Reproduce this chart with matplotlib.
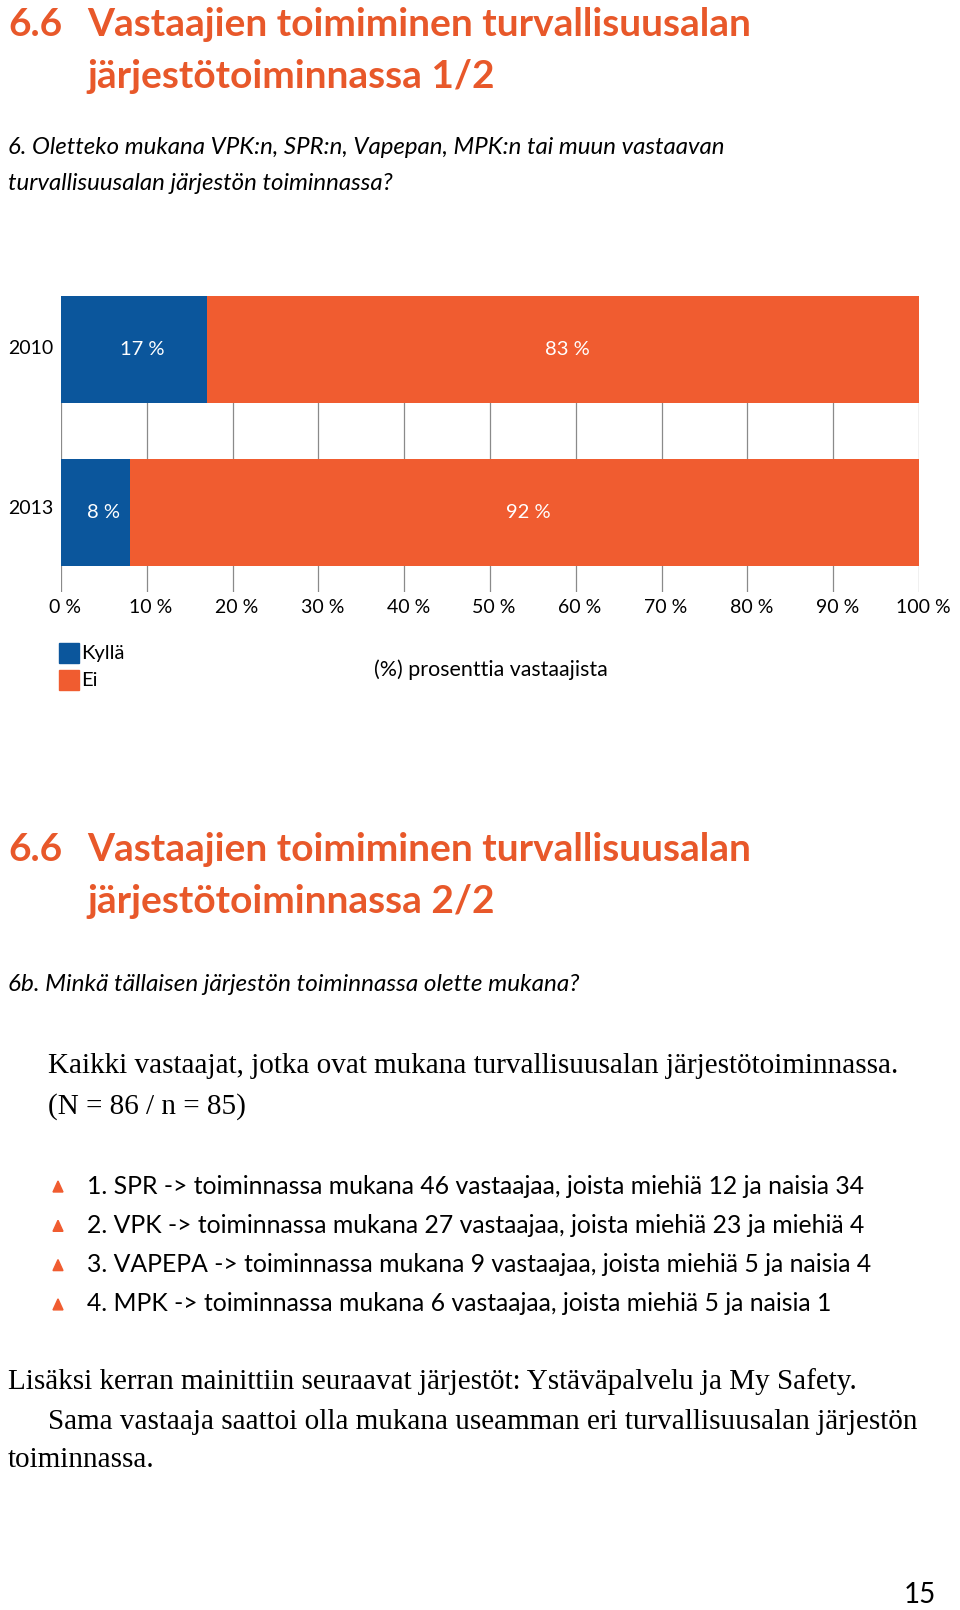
import matplotlib
matplotlib.use("Agg")
import matplotlib.pyplot as plt
from matplotlib.patches import Rectangle, Polygon

# data
years = ["2010", "2013"]
kylla = [17, 8]
ei = [83, 92]
ticks = [0, 10, 20, 30, 40, 50, 60, 70, 80, 90, 100]
legend_labels = ["Kyllä", "Ei"]

bullets = [
    "1. SPR -> toiminnassa mukana 46 vastaajaa, joista miehiä 12 ja naisia 34",
    "2. VPK -> toiminnassa mukana 27 vastaajaa, joista miehiä 23 ja miehiä 4",
    "3. VAPEPA -> toiminnassa mukana 9 vastaajaa, joista miehiä 5 ja naisia 4",
    "4. MPK -> toiminnassa mukana 6 vastaajaa, joista miehiä 5 ja naisia 1",
]

BLUE = "#0b569c"
ORANGE = "#f05c30"
TITLE = "#e8582a"
W, H = 960, 1610

fig = plt.figure(figsize=(W / 100, H / 100), dpi=100)
SANS = ["Lato", "DejaVu Sans"]
SERIF = ["Liberation Serif", "DejaVu Serif"]


def px(x, y):
    # pixel position (from top-left) -> figure fraction
    return x / W, 1 - y / H


def txt(x, y, s, **kw):
    kw.setdefault("va", "center")
    kw.setdefault("ha", "left")
    fig.text(*px(x, y), s, **kw)


def title(y, part):
    txt(8, y, "6.6", fontsize=28, color=TITLE, fontweight="bold", family=SANS)
    txt(87, y, "Vastaajien toimiminen turvallisuusalan", fontsize=28,
        color=TITLE, fontweight="bold", family=SANS)
    txt(87, y + 52, "järjestötoiminnassa " + part, fontsize=28,
        color=TITLE, fontweight="bold", family=SANS)


# --- page 1/2 ---
title(24, "1/2")
txt(8, 148, "6. Oletteko mukana VPK:n, SPR:n, Vapepan, MPK:n tai muun vastaavan",
    fontsize=17.3, style="italic", family=SANS)
txt(8, 183, "turvallisuusalan järjestön toiminnassa?",
    fontsize=17.3, style="italic", family=SANS)

# bar chart
left, right, top, bottom = 61, 919, 296, 592
ax = fig.add_axes([left / W, 1 - bottom / H, (right - left) / W, (bottom - top) / H])
ypos = list(range(len(years)))
ax.barh(ypos, kylla, height=0.66, color=BLUE, zorder=3)
ax.barh(ypos, ei, left=kylla, height=0.66, color=ORANGE, zorder=3)
for t in ticks:
    ax.axvline(t, color="#8a8a8a", lw=0.9, zorder=1)
for i, (a, b) in enumerate(zip(kylla, ei)):
    ax.text(a / 2 + 1, i, f"{a} %", color="white", ha="center", va="center",
            fontsize=14.5, family=SANS, zorder=4)
    ax.text(a + b / 2 + 0.5, i, f"{b} %", color="white", ha="center", va="center",
            fontsize=14.5, family=SANS, zorder=4)
ax.set_xlim(0, 100)
ax.set_ylim(1.49, -0.33)
ax.axis("off")

for i, y in enumerate(years):
    txt(8, 348 + i * 161, y, fontsize=14, family=SANS)
for t in ticks:
    txt(left + (right - left) * t / 100 + 4, 607, f"{t} %", fontsize=14,
        ha="center", family=SANS)

# legend
for i, (lab, c) in enumerate(zip(legend_labels, [BLUE, ORANGE])):
    y0 = 653 + i * 27
    fig.patches.append(Rectangle(px(59, y0 + 10), 20 / W, 20 / H, color=c,
                                 transform=fig.transFigure, figure=fig))
    txt(81, y0, lab, fontsize=14.5, family=SANS)
txt(491, 670, "(%) prosenttia vastaajista", fontsize=15.4, ha="center", family=SANS)

# --- page 2/2 ---
title(849, "2/2")
txt(8, 984, "6b. Minkä tällaisen järjestön toiminnassa olette mukana?",
    fontsize=17.5, style="italic", family=SANS)
txt(48, 1066, "Kaikki vastaajat, jotka ovat mukana turvallisuusalan järjestötoiminnassa.",
    fontsize=21, family=SERIF)
txt(48, 1107, "(N = 86 / n = 85)", fontsize=21, family=SERIF)

for i, s in enumerate(bullets):
    y = 1186 + i * 39.3
    tri = [(53, y + 6), (63, y + 6), (58, y - 5)]
    fig.patches.append(Polygon([px(*p) for p in tri], closed=True, color=ORANGE,
                               transform=fig.transFigure, figure=fig))
    txt(87, y, s, fontsize=17.8, family=SANS)

txt(8, 1382, "Lisäksi kerran mainittiin seuraavat järjestöt: Ystäväpalvelu ja My Safety.",
    fontsize=21, family=SERIF)
txt(48, 1422, "Sama vastaaja saattoi olla mukana useamman eri turvallisuusalan järjestön",
    fontsize=21, family=SERIF)
txt(8, 1460, "toiminnassa.", fontsize=21, family=SERIF)
txt(936, 1595, "15", fontsize=20, ha="right", family=SANS)

fig.savefig("out.png", dpi=100)
